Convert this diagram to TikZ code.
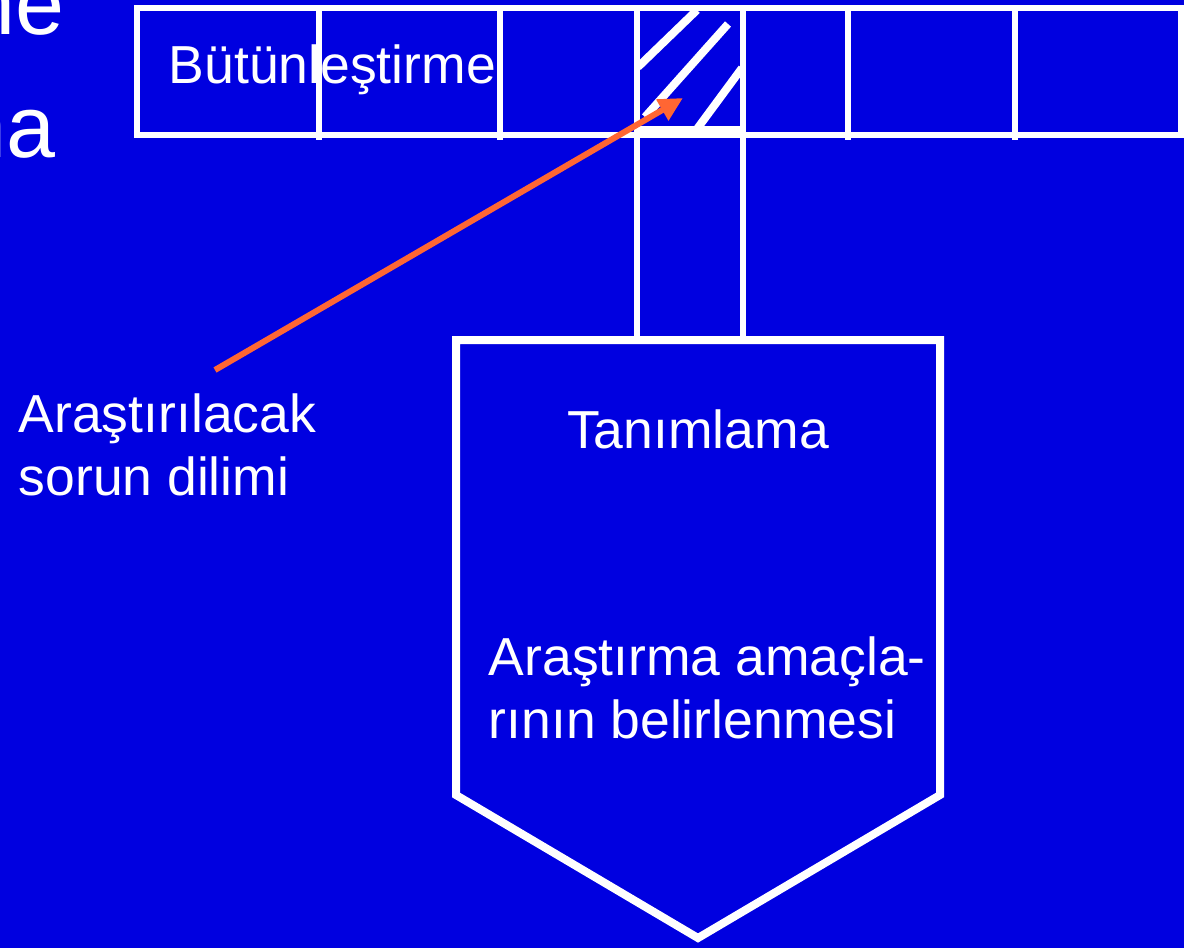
\documentclass[tikz,border=0pt]{standalone}
\usepackage{fontspec}
\setmainfont{Liberation Sans}
\usetikzlibrary{arrows.meta}
\definecolor{slideblue}{RGB}{0,0,224}
\definecolor{pointer}{RGB}{255,102,51}

\begin{document}
\begin{tikzpicture}[x=1pt,y=-1pt,line width=5.5pt,white,
  label/.style={text=white,inner sep=0pt,font=\fontsize{53.5}{63}\selectfont},
  big/.style={text=white,inner sep=0pt,font=\fontsize{88}{88}\selectfont}]
\fill[slideblue] (0,0) rectangle (1184,948);
\useasboundingbox (0,0) rectangle (1184,948);
\clip (0,0) rectangle (1184,948);
\draw (67,34) node[big,anchor=base east](ne) {ne};
\draw (58,157) node[big,anchor=base east](na) {na};
% row of slices
\draw (137,8) rectangle (1181,135);
\foreach \x in {319,500,637,743,848,1015}
  \draw (\x,8) -- (\x,140);
\draw (166,83) node[label,anchor=base west](whole) {Bütünleştirme};
% the chosen slice
\draw (637,129) -- (743,129);
\draw[line width=8pt] (697,10) -- (638,67);
\draw[line width=8pt] (728,24) -- (645,117);
\draw[line width=8pt] (742,68) -- (697,129);
\coordinate (sliceL) at (637,135);
\coordinate (sliceR) at (743,135);
% the block below
\coordinate (topL) at (456,340);
\coordinate (topR) at (940,340);
\coordinate (sideR) at (940,795);
\coordinate (tip) at (698,938);
\coordinate (sideL) at (456,795);
\draw[line width=8pt] (topL) -- (topR) -- (sideR) -- (tip) -- (sideL) -- cycle;
\draw (sliceL) -- (sliceL |- topL);
\draw (sliceR) -- (sliceR |- topR);
\draw (698,448) node[label,anchor=base](define) {Tanımlama};
\draw (486,675) node[label,anchor=base west](aims) {Araştırma amaçla-};
\draw (486,738) node[label,anchor=base west](aims2) {rının belirlenmesi};
% pointer
\draw (16,432) node[label,anchor=base west](slice) {Araştırılacak};
\draw (16,495) node[label,anchor=base west](slice2) {sorun dilimi};
\coordinate (from) at (215,370);
\coordinate (to) at (683,98);
\draw[pointer,line width=6pt,-{Triangle[length=24pt,width=23pt]}] (from) -- (to);
\end{tikzpicture}
\end{document}
